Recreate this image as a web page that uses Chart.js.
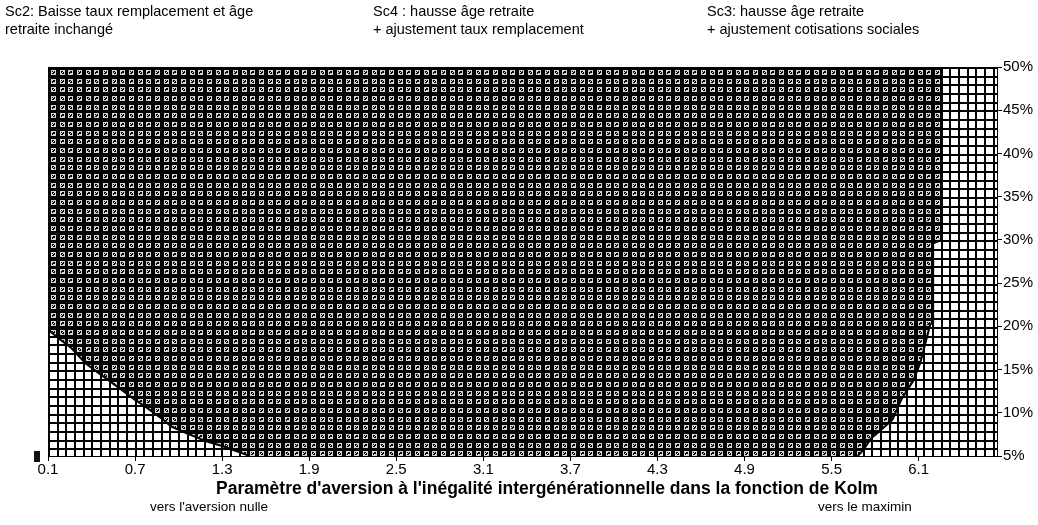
<!DOCTYPE html>
<html lang="fr">
<head>
<meta charset="UTF-8">
<title>Scénarios de réforme et aversion à l'inégalité</title>
<script src="https://cdn.jsdelivr.net/npm/chart.js"></script>
<style>
  body { margin: 0; background: #fff; font-family: "Liberation Sans", Arial, sans-serif; }
  .wrap { position: relative; width: 1038px; height: 525px; }
  .note { position: absolute; font-size: 14.5px; line-height: 18px; color: #000; white-space: nowrap; }
  .hint { position: absolute; top: 499px; font-size: 13.5px; color: #000; white-space: nowrap; }
  .axis-title { position: absolute; left: 147px; width: 800px; top: 478px; text-align: center;
                font-size: 17.5px; font-weight: bold; color: #000; white-space: nowrap; }
  .mark { position: absolute; left: 34px; top: 451px; width: 6px; height: 11px; background: #111; }
</style>
</head>
<body>
<div class="wrap">
  <canvas id="kolm" width="1038" height="525"></canvas>
  <div class="note" style="left:5px;top:2px">Sc2: Baisse taux remplacement et âge<br>retraite inchangé</div>
  <div class="note" style="left:373px;top:2px">Sc4 : hausse âge retraite<br>+ ajustement taux remplacement</div>
  <div class="note" style="left:707px;top:2px">Sc3: hausse âge retraite<br>+ ajustement cotisations sociales</div>
  <div class="axis-title">Paramètre d'aversion à l'inégalité intergénérationnelle dans la fonction de Kolm</div>
  <div class="hint" style="left:150px">vers l'aversion nulle</div>
  <div class="hint" style="left:818px">vers le maximin</div>
  <div class="mark"></div>
</div>

<script>
// bornes des axes
var xMin = 0.1, xMax = 6.64;
var yMin = 5, yMax = 50;
var xTicks = [0.1, 0.7, 1.3, 1.9, 2.5, 3.1, 3.7, 4.3, 4.9, 5.5, 6.1];
var yTicks = [5, 10, 15, 20, 25, 30, 35, 40, 45, 50];

// frontière entre Sc2 (en bas à gauche) et Sc4
var sc2X = [0.1, 0.19, 0.26, 0.36, 0.44, 0.53, 0.61, 0.70, 0.78, 0.87, 0.95, 1.06, 1.19, 1.31, 1.49];
var sc2Y = [19.6, 18.4, 17.5, 15.7, 14.7, 13.6, 12.6, 11.5, 10.6, 9.5, 8.4, 7.6, 6.7, 6.1, 5.0];

// frontière entre Sc4 et Sc3 (à droite), du bas vers le haut
var sc3X = [5.68, 5.72, 5.77, 5.84, 5.92, 5.98, 6.06, 6.11, 6.18, 6.20, 6.20, 6.26, 6.26];
var sc3Y = [5.0, 5.7, 7.0, 8.0, 9.2, 11.5, 13.6, 15.7, 20.2, 20.5, 29.6, 30.0, 50.0];

var canvas = document.getElementById('kolm');
var ctx = canvas.getContext('2d');

// motif "quadrillage" : 3 cases par tuile de 26 px
var cuts = [0, 9, 17];
var glyphs = [
  ['11111', '10101', '11001', '10011', '11111'],
  ['11111', '10011', '10101', '11001', '11111'],
  ['11111', '11001', '10001', '10111', '11111']
];

function makePattern(dense) {
  var tile = document.createElement('canvas');
  tile.width = 26; tile.height = 26;
  var g = tile.getContext('2d');
  g.fillStyle = dense ? '#000' : '#fff';
  g.fillRect(0, 0, 26, 26);
  g.fillStyle = '#000';
  cuts.forEach(function (p) {
    g.fillRect(p, 0, 2, 26);
    g.fillRect(0, p, 26, 2);
  });
  if (dense) {
    g.fillStyle = '#d6d6d6';
    for (var i = 0; i < 3; i++) {
      for (var j = 0; j < 3; j++) {
        var glyph = glyphs[(i * 2 + j) % 3];
        var ox = cuts[j] + 3, oy = cuts[i] + 3;
        for (var r = 0; r < 5; r++) {
          for (var c = 0; c < 5; c++) {
            if (glyph[r][c] === '1') g.fillRect(ox + c, oy + r, 1, 1);
          }
        }
      }
    }
  }
  return ctx.createPattern(tile, 'repeat');
}

var gridPattern = makePattern(false);
var densePattern = makePattern(true);

function toPoints(xs, ys) {
  return xs.map(function (x, i) { return { x: x, y: ys[i] }; });
}

var sc2Line = toPoints(sc2X, sc2Y);
var sc3Line = toPoints(sc3X, sc3Y);
// zone Sc3 fermée par le coin supérieur droit puis le bas du graphique
var sc3Area = sc3Line.concat([{ x: xMax, y: yMax }, { x: xMax, y: yMin }]);

// fond de la zone Sc4 + calage des motifs sur la zone de tracé
var patternBackground = {
  id: 'patternBackground',
  beforeDraw: function (chart) {
    var a = chart.chartArea;
    var m = new DOMMatrix([1, 0, 0, 1, a.left, a.top]);
    gridPattern.setTransform(m);
    densePattern.setTransform(m);
    var c = chart.ctx;
    c.save();
    c.fillStyle = densePattern;
    c.fillRect(a.left, a.top, a.right - a.left, a.bottom - a.top);
    c.restore();
  }
};

var font = { family: '"Liberation Sans", Arial, sans-serif', size: 15 };

new Chart(ctx, {
  type: 'line',
  data: {
    datasets: [
      { label: 'frontière Sc2', data: sc2Line, borderColor: '#000', borderWidth: 2, fill: false },
      { label: 'frontière Sc3', data: sc3Line, borderColor: '#000', borderWidth: 2, fill: false },
      { label: 'Sc2', data: sc2Line, borderWidth: 0, backgroundColor: gridPattern, fill: 'start' },
      { label: 'Sc3', data: sc3Area, borderWidth: 0, backgroundColor: gridPattern, fill: 'start' }
    ]
  },
  options: {
    responsive: false,
    animation: false,
    events: [],
    layout: { padding: { left: 48, top: 67, right: 0, bottom: 45 } },
    elements: { point: { radius: 0 }, line: { tension: 0 } },
    plugins: { legend: { display: false }, tooltip: { enabled: false } },
    scales: {
      x: {
        type: 'linear',
        min: xMin,
        max: xMax,
        afterBuildTicks: function (scale) {
          scale.ticks = xTicks.map(function (v) { return { value: v }; });
        },
        afterFit: function (scale) { scale.height = 24; },
        ticks: {
          color: '#000',
          font: font,
          padding: 0,
          maxRotation: 0,
          callback: function (v) { return v.toFixed(1); }
        },
        grid: { drawOnChartArea: false, drawTicks: true, tickLength: 5, color: '#000' },
        border: { display: true, color: '#000', width: 1 }
      },
      y: {
        type: 'linear',
        position: 'right',
        min: yMin,
        max: yMax,
        afterBuildTicks: function (scale) {
          scale.ticks = yTicks.map(function (v) { return { value: v }; });
        },
        afterFit: function (scale) { scale.width = 41; },
        ticks: {
          color: '#000',
          font: font,
          padding: 1,
          callback: function (v) { return v + '%'; }
        },
        grid: { drawOnChartArea: false, drawTicks: true, tickLength: 5, color: '#000' },
        border: { display: true, color: '#000', width: 1 }
      }
    }
  },
  plugins: [patternBackground]
});
</script>
</body>
</html>
